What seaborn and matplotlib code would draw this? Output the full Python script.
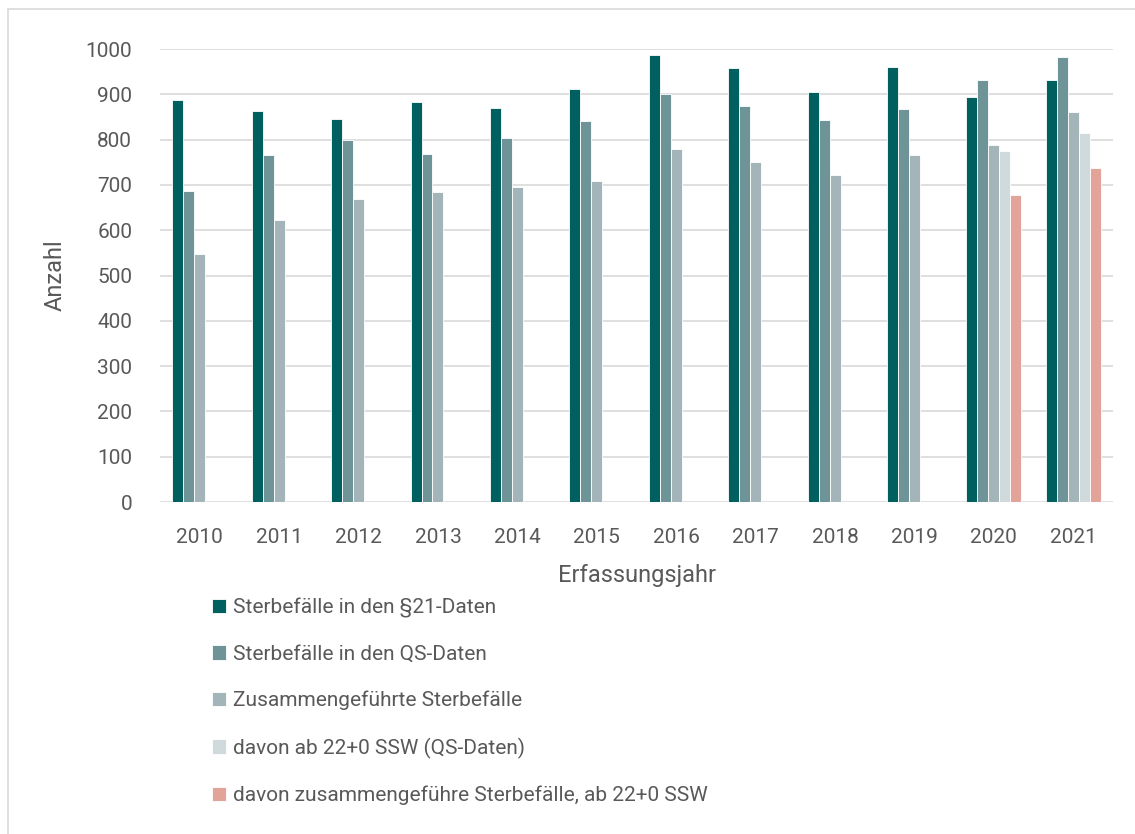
import numpy as np
import pandas as pd
import matplotlib.pyplot as plt
import seaborn as sns
from matplotlib.patches import Rectangle

sns.set_theme(style="white")
plt.rcParams['font.family'] = ['Roboto', 'DejaVu Sans']

years = [2010, 2011, 2012, 2013, 2014, 2015, 2016, 2017, 2018, 2019, 2020, 2021]
series = [
    "Sterbefälle in den §21-Daten",
    "Sterbefälle in den QS-Daten",
    "Zusammengeführte Sterbefälle",
    "davon ab 22+0 SSW (QS-Daten)",
    "davon zusammengeführe Sterbefälle, ab 22+0 SSW",
]
sterbe_21 = [887, 864, 846, 883, 870, 912, 987, 958, 906, 960, 893, 932]
sterbe_qs = [686, 766, 799, 768, 804, 840, 901, 875, 843, 868, 932, 983]
zusammen = [547, 622, 669, 684, 695, 709, 779, 750, 722, 765, 788, 862]
ab22_qs = [np.nan] * 10 + [774, 815]
ab22_zus = [np.nan] * 10 + [678, 737]
colors = ["#00605f", "#6f9497", "#a3b5b8", "#d0d9dc", "#e2a499"]

rows = []
for name, vals in zip(series, [sterbe_21, sterbe_qs, zusammen, ab22_qs, ab22_zus]):
    for y, v in zip(years, vals):
        rows.append({"Jahr": str(y), "Serie": name, "Anzahl": v})
df = pd.DataFrame(rows)

fig = plt.figure(figsize=(11.35, 8.34), dpi=100)
fig.patches.append(Rectangle((8 / 1135, -0.5), 2, 1.5 - 9 / 834, transform=fig.transFigure,
                             fill=False, edgecolor="#d9d9d9", linewidth=1.2))
ax = fig.add_axes([160 / 1135, 1 - 502 / 834, (1113 - 160) / 1135, (502 - 49) / 834])

sns.barplot(data=df, x="Jahr", y="Anzahl", hue="Serie", hue_order=series,
            palette=colors, width=0.69, edgecolor="white", linewidth=0.6,
            saturation=1, ax=ax, legend=True)

ax.set_ylim(0, 1000)
ax.set_yticks(range(0, 1001, 100))
ax.grid(axis="y", color="#d9d9d9", linewidth=1.2)
ax.set_axisbelow(True)
for s in ax.spines.values():
    s.set_visible(False)
ax.tick_params(axis="both", labelsize=15, labelcolor="#595959", length=0)
ax.tick_params(axis="y", pad=20)
ax.tick_params(axis="x", pad=19)
ax.set_xlabel("Erfassungsjahr", fontsize=17, color="#595959", labelpad=12)
ax.set_ylabel("Anzahl", fontsize=17, color="#595959", labelpad=14)

handles, labels = ax.get_legend_handles_labels()
ax.get_legend().remove()
fig.legend(handles, labels, loc="upper left", bbox_to_anchor=(193 / 1135, 1 - 579 / 834),
           frameon=False, fontsize=15, labelcolor="#595959", handlelength=0.7,
           handleheight=0.7, handletextpad=0.3, labelspacing=1.3)

fig.savefig("out.png", dpi=100)
